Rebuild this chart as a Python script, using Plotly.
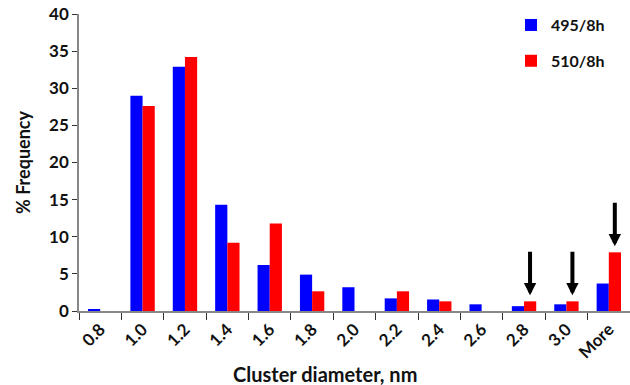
import plotly.graph_objects as go

# Cluster size distribution (% frequency per diameter bin)
bins = ["0.8", "1.0", "1.2", "1.4", "1.6", "1.8", "2.0", "2.2", "2.4", "2.6", "2.8", "3.0", "More"]
freq_495 = [0.2, 29.0, 32.9, 14.3, 6.2, 4.9, 3.2, 1.7, 1.55, 0.9, 0.65, 0.9, 3.7]
freq_510 = [0.0, 27.6, 34.2, 9.2, 11.8, 2.65, 0.0, 2.65, 1.3, 0.0, 1.3, 1.3, 7.9]
flagged_bins = ["2.8", "3.0", "More"]

FONT = "Lato"
TXT = "#111111"
AXIS = "#888888"

fig = go.Figure()
fig.add_trace(go.Bar(x=bins, y=freq_495, name="495/8h", marker_color="#0000FF",
                     marker_line_width=0, legendgroup="a"))
fig.add_trace(go.Bar(x=bins, y=freq_510, name="510/8h", marker_color="#FF0000",
                     marker_line_width=0, legendgroup="b"))

# Arrows pointing at the 510/8h bars of the largest clusters
ann = []
for b in flagged_bins:
    i = bins.index(b)
    ann.append(dict(x=i, y=freq_510[i], xref="x", yref="y", xshift=6, yshift=6,
                    text="", showarrow=True, ax=0, ay=-45, axref="pixel", ayref="pixel",
                    arrowhead=2, arrowsize=0.62, arrowwidth=4, arrowcolor="#000000",
                    standoff=0))

# x-axis title
ann.append(dict(x=(325 - 79) / (630 - 79), y=-(374 - 311) / (311 - 14),
                xref="paper", yref="paper", text="Cluster diameter, nm",
                showarrow=False, xanchor="center", yanchor="middle",
                font=dict(family=FONT, size=20, color=TXT, weight="bold")))

fig.update_layout(
    width=630, height=385,
    margin=dict(l=79, r=0, t=14, b=74),
    paper_bgcolor="white", plot_bgcolor="white",
    barmode="group", bargap=0.425, bargroupgap=0,
    font=dict(family=FONT, color=TXT, weight="bold"),
    showlegend=True,
    legend=dict(x=(511 - 79) / (630 - 79), y=1.02, xanchor="left", yanchor="top",
                traceorder="grouped", tracegroupgap=12,
                font=dict(family=FONT, size=16, color=TXT, weight="bold"),
                bgcolor="rgba(0,0,0,0)"),
    xaxis=dict(type="category", showline=True, linecolor=AXIS, linewidth=1.5,
               ticks="outside", tickson="boundaries", ticklen=7, tickcolor="#333333",
               tickangle=-45, tickfont=dict(family=FONT, size=17, color=TXT, weight="bold"),
               showgrid=False, zeroline=False),
    yaxis=dict(range=[0, 40], dtick=5, showline=True, linecolor=AXIS, linewidth=1.5,
               ticks="outside", ticklen=5, tickcolor="#333333",
               tickfont=dict(family=FONT, size=17, color=TXT, weight="bold"),
               showgrid=False, zeroline=False,
               title=dict(text="% Frequency", standoff=14,
                          font=dict(family=FONT, size=18, color=TXT, weight="bold"))),
    annotations=ann,
)

fig.write_html("out.html")
